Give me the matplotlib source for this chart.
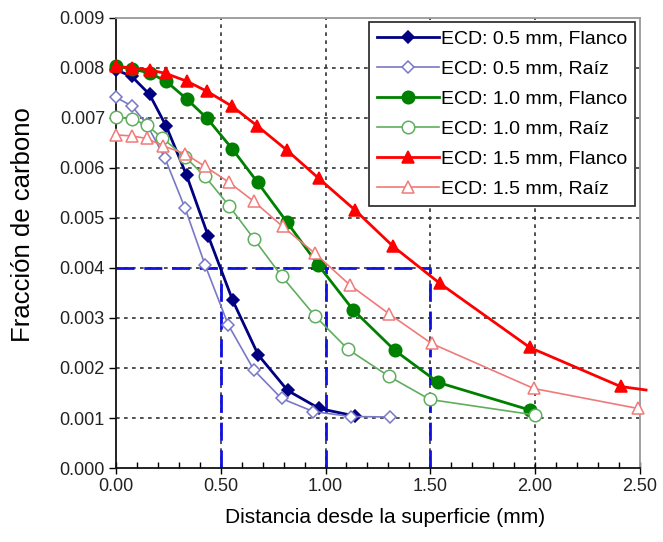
import matplotlib
matplotlib.use("Agg")
import matplotlib.pyplot as plt
from matplotlib.ticker import MultipleLocator, FormatStrFormatter

# Carbon fraction profiles vs. depth for three case depths (ECD), flank and root
x_05_flanco = [0.00, 0.075, 0.16, 0.24, 0.337, 0.44, 0.557, 0.679, 0.819, 0.97, 1.14]
y_05_flanco = [0.00796, 0.00783, 0.00747, 0.00683, 0.00585, 0.00464, 0.00335, 0.00226, 0.00155, 0.00119, 0.00104]

x_05_raiz = [0.00, 0.075, 0.146, 0.234, 0.33, 0.425, 0.536, 0.658, 0.79, 0.941, 1.12, 1.307]
y_05_raiz = [0.00741, 0.00724, 0.00688, 0.00619, 0.00519, 0.00406, 0.00286, 0.00196, 0.00139, 0.00113, 0.00103, 0.00102]

x_10_flanco = [0.00, 0.075, 0.16, 0.24, 0.337, 0.435, 0.555, 0.676, 0.817, 0.965, 1.132, 1.331, 1.538, 1.975]
y_10_flanco = [0.00803, 0.00798, 0.00790, 0.00773, 0.00738, 0.00699, 0.00638, 0.00571, 0.00491, 0.00406, 0.00316, 0.00235, 0.00171, 0.00116]

x_10_raiz = [0.00, 0.075, 0.146, 0.22, 0.33, 0.425, 0.54, 0.66, 0.79, 0.95, 1.108, 1.304, 1.498, 2.00]
y_10_raiz = [0.00701, 0.00698, 0.00686, 0.00660, 0.00622, 0.00583, 0.00524, 0.00457, 0.00384, 0.00304, 0.00237, 0.00183, 0.00137, 0.00106]

x_15_flanco = [0.00, 0.075, 0.16, 0.237, 0.34, 0.435, 0.555, 0.674, 0.814, 0.968, 1.14, 1.323, 1.546, 1.975, 2.408, 2.53]
y_15_flanco = [0.00803, 0.00800, 0.00796, 0.00789, 0.00773, 0.00753, 0.00723, 0.00684, 0.00636, 0.00579, 0.00516, 0.00443, 0.00369, 0.00241, 0.00163, 0.00156]

x_15_raiz = [0.00, 0.075, 0.146, 0.226, 0.33, 0.425, 0.54, 0.658, 0.795, 0.95, 1.116, 1.304, 1.506, 1.994, 2.492]
y_15_raiz = [0.00666, 0.00664, 0.00659, 0.00644, 0.00628, 0.00603, 0.00571, 0.00533, 0.00483, 0.00429, 0.00366, 0.00308, 0.00249, 0.00159, 0.00119]

labels = ["ECD: 0.5 mm, Flanco", "ECD: 0.5 mm, Raíz",
          "ECD: 1.0 mm, Flanco", "ECD: 1.0 mm, Raíz",
          "ECD: 1.5 mm, Flanco", "ECD: 1.5 mm, Raíz"]

# Reference level and case depths marked with guide lines
nivel_ref = 0.004
profundidades = [0.5, 1.0, 1.5]

xticks = [0.0, 0.5, 1.0, 1.5, 2.0, 2.5]
yticks = [0.000, 0.001, 0.002, 0.003, 0.004, 0.005, 0.006, 0.007, 0.008, 0.009]

plt.rcParams["font.family"] = ["Liberation Sans", "DejaVu Sans"]

fig = plt.figure(figsize=(6.63, 5.42), dpi=100)
ax = fig.add_axes([0.175, 0.1365, 0.79, 0.8305])

ax.set_xlim(0, 2.5)
ax.set_ylim(0, 0.009)

grid_style = dict(color="#333333", lw=1.2, ls=(0, (2.2, 2.6)), zorder=1)
for xv in xticks[1:-1]:
    ax.axvline(xv, **grid_style)
for yv in yticks[1:-1]:
    ax.axhline(yv, **grid_style)

# Guide lines at the reference level
guide = dict(color="#1010e0", lw=2.0, ls=(0, (6.5, 3.5)), zorder=2)
ax.plot([0, max(profundidades)], [nivel_ref, nivel_ref], **guide)
for d in profundidades:
    ax.plot([d, d], [0, nivel_ref], **guide)

series = [
    (x_05_flanco, y_05_flanco, "#000080", "D", True, 2.0, 7),
    (x_05_raiz, y_05_raiz, "#7878c8", "D", False, 1.2, 7),
    (x_10_flanco, y_10_flanco, "#008000", "o", True, 2.0, 9),
    (x_10_raiz, y_10_raiz, "#5fae5f", "o", False, 1.2, 9),
    (x_15_flanco, y_15_flanco, "#ff0000", "^", True, 2.0, 9),
    (x_15_raiz, y_15_raiz, "#f07a7a", "^", False, 1.2, 9),
]

handles = []
for (xs, ys, col, mk, filled, lw, ms), lab in zip(series, labels):
    n = len(xs)
    inside = [i for i in range(n) if xs[i] <= 2.5]
    h, = ax.plot(xs, ys, color=col, lw=lw, marker=mk, ms=ms if mk != "D" else ms - 1,
                 markerfacecolor=col if filled else "white",
                 markeredgecolor=col, markeredgewidth=1.1,
                 markevery=inside, label=lab, zorder=4, clip_on=False)
    handles.append(h)

ax.set_xticks(xticks)
ax.set_yticks(yticks)
ax.xaxis.set_major_formatter(FormatStrFormatter("%.2f"))
ax.yaxis.set_major_formatter(FormatStrFormatter("%.3f"))
ax.xaxis.set_minor_locator(MultipleLocator(0.1))
ax.tick_params(axis="x", which="major", direction="inout", length=8, width=1, labelsize=13, pad=3)
ax.tick_params(axis="x", which="minor", direction="in", length=4, width=1)
ax.tick_params(axis="y", which="major", direction="out", length=5, width=1, labelsize=13, pad=3)
for lab in ax.get_xticklabels() + ax.get_yticklabels():
    lab.set_color("#222222")

for s in ("left", "bottom"):
    ax.spines[s].set_color("#111111")
    ax.spines[s].set_linewidth(1.3)
for s in ("top", "right"):
    ax.spines[s].set_color("#999999")
    ax.spines[s].set_linewidth(1.3)

ax.set_xlabel("Distancia desde la superficie (mm)", fontsize=15)
ax.set_ylabel("Fracción de carbono", fontsize=18.5)
ax.xaxis.set_label_coords(0.513, -0.088)
ax.yaxis.set_label_coords(-0.155, 0.54)

leg = ax.legend(handles=handles, loc="upper right", bbox_to_anchor=(0.995, 0.995),
                prop={"size": 14}, frameon=True, fancybox=False,
                edgecolor="#222222", framealpha=1, handlelength=3.2, handletextpad=0.1,
                labelspacing=0.64, borderpad=0.4, borderaxespad=0.1)
leg.get_frame().set_linewidth(1.2)
leg.set_zorder(10)

fig.savefig("out.png", dpi=100, facecolor="white")
